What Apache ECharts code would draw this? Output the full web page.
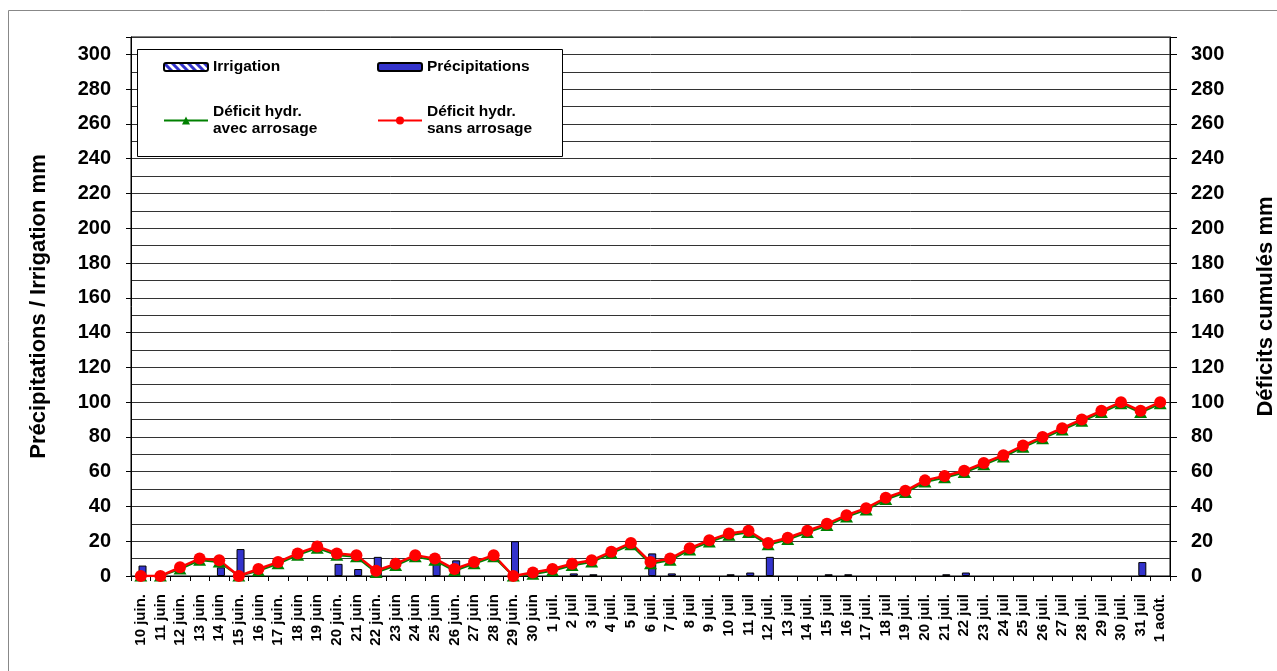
<!DOCTYPE html>
<html>
<head>
<meta charset="utf-8">
<script src="https://cdn.jsdelivr.net/npm/echarts@6/dist/echarts.min.js"></script>
<style>
html, body { margin: 0; padding: 0; background: #fff; }
#main { width: 1277px; height: 671px; }
</style>
</head>
<body>
<div id="main"></div>
<script>
var dates = ['10 juin.', '11 juin', '12 juin.', '13 juin', '14 juin', '15 juin.', '16 juin', '17 juin.', '18 juin', '19 juin',
    '20 juin.', '21 juin', '22 juin.', '23 juin', '24 juin', '25 juin', '26 juin.', '27 juin', '28 juin', '29 juin.',
    '30 juin', '1 juil.', '2 juil', '3 juil', '4 juil.', '5 juil', '6 juil.', '7 juil.', '8 juil', '9 juil.',
    '10 juil', '11 juil', '12 juil.', '13 juil', '14 juil.', '15 juil', '16 juil', '17 juil.', '18 juil', '19 juil.',
    '20 juil.', '21 juil.', '22 juil', '23 juil.', '24 juil', '25 juil', '26 juil.', '27 juil', '28 juil.', '29 juil',
    '30 juil.', '31 juil', '1 août.'];
var irrigation = [0, 0, 0, 0, 0, 0, 0, 0, 0, 0, 0, 0, 0, 0, 0, 0, 0, 0, 0, 0, 0, 0, 0, 0, 0, 0, 0,
    0, 0, 0, 0, 0, 0, 0, 0, 0, 0, 0, 0, 0, 0, 0, 0, 0, 0, 0, 0, 0, 0, 0, 0, 0, 0];
var precipitations = [6, 0, 0, 0, 5, 15.5, 0, 0, 0, 0, 7, 4, 11, 0, 0, 8, 9, 0, 0, 20,
    0, 0, 1.5, 1, 0, 0, 13, 1.5, 0, 0, 1, 2, 11, 0, 0, 1, 1, 0, 0, 0,
    0, 1, 2, 0, 0, 0, 0, 0, 0, 0, 0, 8, 0];
var deficitAvec = [0, 0, 4, 9, 8, 0, 3, 7, 12, 16, 12, 11, 2, 6, 11, 9, 3, 7, 11, 0,
    1, 3, 6, 8, 13, 18, 7, 9, 15, 19.5, 23.5, 25, 18, 21, 25, 29, 34, 38, 44, 48,
    54, 56.5, 59.5, 64, 68.5, 74, 79, 84, 89, 94, 99, 94, 99];
var deficitSans = [0, 0, 5, 10, 9, 0, 4, 8, 13, 17, 13, 12, 3, 7, 12, 10, 4, 8, 12, 0,
    2, 4, 7, 9, 14, 19, 8, 10, 16, 20.5, 24.5, 26, 19, 22, 26, 30, 35, 39, 45, 49,
    55, 57.5, 60.5, 65, 69.5, 75, 80, 85, 90, 95, 100, 95, 100];
var yMax = 310;
var yLabelMax = 300;

var font = 'Liberation Sans, Arial, sans-serif';

// motif hachuré pour l'irrigation
function hatch() {
    var c = document.createElement('canvas');
    c.width = 8;
    c.height = 8;
    var ctx = c.getContext('2d');
    ctx.fillStyle = '#ffffff';
    ctx.fillRect(0, 0, 8, 8);
    ctx.strokeStyle = '#3333cc';
    ctx.lineWidth = 3;
    ctx.beginPath();
    ctx.moveTo(-2, -2); ctx.lineTo(10, 10);
    ctx.moveTo(-6, 2); ctx.lineTo(2, 10);
    ctx.moveTo(6, -2); ctx.lineTo(10, 2);
    ctx.stroke();
    return { image: c, repeat: 'repeat' };
}

// pas de barre dessinée pour 0 mm
function bars(arr) {
    return arr.map(function (v) { return v === 0 ? '-' : v; });
}

function yLabel(v) {
    return (v % 20 === 0 && v <= yLabelMax) ? String(v) : '';
}

var dom = document.getElementById('main');
var myChart = echarts.init(dom);
var legendText = { fontSize: 15.5, fontWeight: 'bold', fontFamily: font, color: '#000', lineHeight: 16 };
var legendText2 = { fontSize: 15.5, fontWeight: 'bold', fontFamily: font, color: '#000', lineHeight: 17, padding: [17, 0, 0, 0] };
function splitName(name) {
    return name.replace(' avec', '\navec').replace(' sans', '\nsans');
}

var option = {
    animation: false,
    backgroundColor: '#fff',
    graphic: [{
        type: 'rect',
        silent: true,
        z: -10,
        shape: { x: 8.5, y: 10.5, width: 1300, height: 700 },
        style: { fill: 'none', stroke: '#888', lineWidth: 1 }
    }, {
        type: 'rect',
        silent: true,
        z: 3,
        shape: { x: 137.5, y: 49.5, width: 425, height: 107 },
        style: { fill: '#fff', stroke: '#000', lineWidth: 1 }
    }],
    legend: [{
        data: ['Irrigation'],
        left: 163, top: 59, padding: 0,
        itemWidth: 44, itemHeight: 8,
        textStyle: legendText
    }, {
        data: ['Précipitations'],
        left: 377, top: 59, padding: 0,
        itemWidth: 44, itemHeight: 8,
        textStyle: legendText
    }, {
        data: ['Déficit hydr. avec arrosage'],
        left: 163, top: 95, padding: 0,
        itemWidth: 44, itemHeight: 10,
        formatter: splitName,
        textStyle: legendText2
    }, {
        data: ['Déficit hydr. sans arrosage'],
        left: 377, top: 95, padding: 0,
        itemWidth: 44, itemHeight: 10,
        formatter: splitName,
        textStyle: legendText2
    }],
    grid: {
        left: 131,
        right: 107,
        top: 37,
        bottom: 95,
        outerBoundsMode: 'none',
        show: true,
        borderColor: '#000',
        borderWidth: 1
    },
    xAxis: {
        type: 'category',
        data: dates,
        boundaryGap: true,
        axisLine: { lineStyle: { color: '#000', width: 1 } },
        axisTick: { show: true, interval: 0, length: 5, lineStyle: { color: '#000' } },
        axisLabel: {
            interval: 0,
            rotate: 90,
            margin: 18,
            fontSize: 15,
            fontWeight: 'bold',
            fontFamily: font,
            color: '#000'
        },
        splitLine: { show: false }
    },
    yAxis: [{
        type: 'value',
        position: 'left',
        min: 0,
        max: yMax,
        interval: 20,
        name: 'Précipitations / Irrigation mm',
        nameLocation: 'middle',
        nameRotate: 90,
        nameGap: 81,
        nameTextStyle: { fontSize: 22, fontWeight: 'bold', fontFamily: font, color: '#000' },
        axisLine: { show: true, lineStyle: { color: '#000' } },
        axisTick: { show: true, length: 5, lineStyle: { color: '#000' } },
        axisLabel: { formatter: yLabel, margin: 20, fontSize: 20, fontWeight: 'bold', fontFamily: font, color: '#000' },
        splitLine: { show: false }
    }, {
        type: 'value',
        position: 'right',
        min: 0,
        max: yMax,
        interval: 20,
        name: 'Déficits cumulés mm',
        nameLocation: 'middle',
        nameRotate: 90,
        nameGap: 85,
        nameTextStyle: { fontSize: 22, fontWeight: 'bold', fontFamily: font, color: '#000' },
        axisLine: { show: true, lineStyle: { color: '#000' } },
        axisTick: { show: true, length: 7, lineStyle: { color: '#000' } },
        axisLabel: { formatter: yLabel, margin: 21, fontSize: 20, fontWeight: 'bold', fontFamily: font, color: '#000' },
        splitLine: { show: false }
    }, {
        // lignes de quadrillage tous les 10 mm
        type: 'value',
        position: 'left',
        min: 0,
        max: yMax,
        interval: 10,
        axisLine: { show: false },
        axisTick: { show: false },
        axisLabel: { show: false },
        splitLine: { show: true, lineStyle: { color: '#333', width: 1 } }
    }],
    series: [{
        name: 'Irrigation',
        type: 'bar',
        yAxisIndex: 0,
        barWidth: 8,
        barGap: '-57%',
        itemStyle: { color: hatch(), borderColor: '#000', borderWidth: 1 },
        data: bars(irrigation)
    }, {
        name: 'Précipitations',
        type: 'bar',
        yAxisIndex: 0,
        barWidth: 8,
        barGap: '-57%',
        itemStyle: { color: '#3333cc', borderColor: '#000', borderWidth: 1 },
        data: bars(precipitations)
    }, {
        name: 'Déficit hydr. avec arrosage',
        type: 'line',
        yAxisIndex: 1,
        symbol: 'triangle',
        symbolSize: [13, 11],
        itemStyle: { color: '#008000' },
        lineStyle: { color: '#008000', width: 2 },
        data: deficitAvec
    }, {
        name: 'Déficit hydr. sans arrosage',
        type: 'line',
        yAxisIndex: 1,
        symbol: 'circle',
        symbolSize: 12,
        itemStyle: { color: '#ff0000' },
        lineStyle: { color: '#ff0000', width: 2.5 },
        data: deficitSans
    }]
};
if (option && typeof option === 'object') {
    myChart.setOption(option, true);
}
</script>
</body>
</html>
